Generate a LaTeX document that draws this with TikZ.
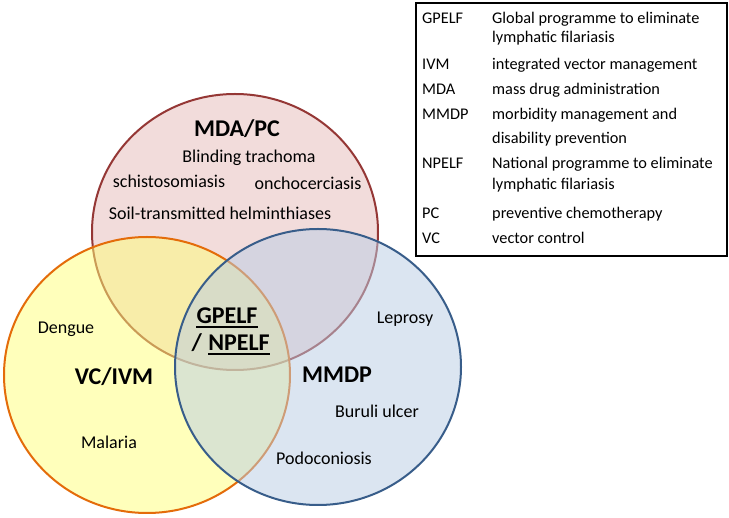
\documentclass[tikz,border=0pt]{standalone}
\usepackage{fontspec}
\setmainfont{Carlito}
\definecolor{redline}{RGB}{149,55,53}
\definecolor{redfill}{RGB}{242,220,219}
\definecolor{yelline}{RGB}{228,108,10}
\definecolor{yelfill}{RGB}{255,255,120}
\definecolor{bluline}{RGB}{56,93,138}
\definecolor{blufill}{RGB}{185,205,229}
\begin{document}
\begin{tikzpicture}[x=1pt,y=-1pt,
  lbl/.style={inner sep=0pt, anchor=base, font=\fontsize{18}{21}\selectfont},
  big/.style={inner sep=0pt, anchor=base, font=\fontsize{24}{28}\selectfont\bfseries},
  leg/.style={inner sep=0pt, anchor=base west, font=\fontsize{16.3}{20}\selectfont},
  venn/.style={line width=2pt},
  uline/.style={line width=1.4pt}]
\useasboundingbox (0,0) rectangle (729,518);
\fill[white] (0,0) rectangle (729,518);
% circles
\path[venn, draw=redline, fill=redfill] (235,232) ellipse [x radius=143pt, y radius=138pt];
\path[venn, draw=yelline, fill=yelfill, fill opacity=0.5] (147,375) ellipse [x radius=143pt, y radius=138pt];
\path[venn, draw=bluline, fill=blufill, fill opacity=0.5] (318,367) ellipse [x radius=143pt, y radius=138pt];
% MDA/PC
\node[big] (mda) at (237,137) {MDA/PC};
\node[lbl] (trach) at (249,163) {Blinding trachoma};
\node[lbl] (schisto) at (169,188) {schistosomiasis};
\node[lbl] (oncho) at (308,190) {onchocerciasis};
\node[lbl] (sth) at (220,220) {Soil-transmitted helminthiases};
% VC/IVM
\node[lbl] (deng) at (66,334) {Dengue};
\node[big] (vc) at (114,385) {VC/IVM};
\node[lbl] (mal) at (109,449) {Malaria};
% centre
\node[big] (gp) at (227,324) {GPELF};
\node[big] (np) at (239,351) {NPELF};
\node[big, anchor=base east] (sl) at ([xshift=-6pt]np.base west) {/};
\draw[uline] ([yshift=-3pt]gp.base west) -- ([yshift=-3pt]gp.base east);
\draw[uline] ([yshift=-3pt]np.base west) -- ([yshift=-3pt]np.base east);
% MMDP
\node[lbl] (lep) at (405,324) {Leprosy};
\node[big] (mmdp) at (337,383) {MMDP};
\node[lbl] (bur) at (377,418) {Buruli ulcer};
\node[lbl] (podo) at (324,465) {Podoconiosis};
% legend
\draw[line width=1.8pt, fill=white] (416,3) rectangle (727,256);
\node[leg] (a1) at (422,23.3) {GPELF};
\node[leg] (d1) at (492,23.3) {Global programme to eliminate};
\node[leg] (d1b) at (492,42.7) {lymphatic filariasis};
\node[leg] (a2) at (422,70) {IVM};
\node[leg] (d2) at (492,70) {integrated vector management};
\node[leg] (a3) at (422,95) {MDA};
\node[leg] (d3) at (492,95) {mass drug administration};
\node[leg] (a4) at (422,120) {MMDP};
\node[leg] (d4) at (492,120) {morbidity management and};
\node[leg] (d4b) at (492,143.3) {disability prevention};
\node[leg] (a5) at (422,168.3) {NPELF};
\node[leg] (d5) at (492,168.3) {National programme to eliminate};
\node[leg] (d5b) at (492,190) {lymphatic filariasis};
\node[leg] (a6) at (422,218.3) {PC};
\node[leg] (d6) at (492,218.3) {preventive chemotherapy};
\node[leg] (a7) at (422,243.3) {VC};
\node[leg] (d7) at (492,243.3) {vector control};
\end{tikzpicture}
\end{document}
